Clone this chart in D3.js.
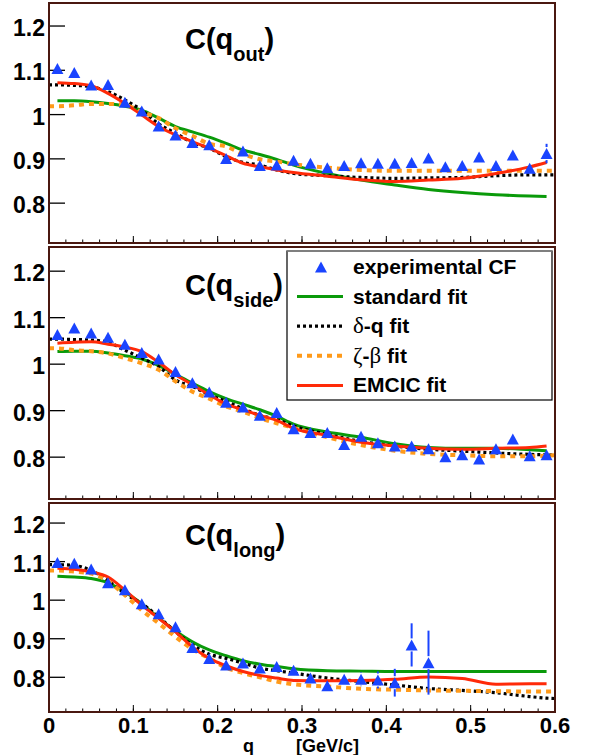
<!DOCTYPE html>
<html>
<head>
<meta charset="utf-8">
<script src="https://cdn.jsdelivr.net/npm/d3@7"></script>
<style>
  body { margin: 0; background: #fff; }
  svg { display: block; }
</style>
</head>
<body>
<script>
// ---- data ---------------------------------------------------------------
// bin centres of the measured correlation functions [GeV/c]
const qBins = [0.01, 0.03, 0.05, 0.07, 0.09, 0.11, 0.13, 0.15, 0.17, 0.19,
               0.21, 0.23, 0.25, 0.27, 0.29, 0.31, 0.33, 0.35, 0.37, 0.39,
               0.41, 0.43, 0.45, 0.47, 0.49, 0.51, 0.53, 0.55, 0.57, 0.59];

// experimental CF, out / side / long projections
const cfOut  = [1.104, 1.095, 1.067, 1.068, 1.028, 1.008, 0.974, 0.954, 0.937, 0.932,
                0.901, 0.918, 0.885, 0.886, 0.897, 0.890, 0.880, 0.885, 0.891, 0.890,
                0.890, 0.892, 0.902, 0.882, 0.885, 0.904, 0.885, 0.909, 0.879, 0.912];
const errOut = [0.010, 0.010, 0.010, 0.010, 0.010, 0.010, 0.010, 0.010, 0.010, 0.010,
                0.010, 0.010, 0.010, 0.010, 0.010, 0.010, 0.010, 0.010, 0.011, 0.011,
                0.011, 0.011, 0.012, 0.012, 0.012, 0.012, 0.012, 0.013, 0.013, 0.022];

const cfSide  = [1.064, 1.078, 1.067, 1.058, 1.043, 1.025, 1.011, 0.984, 0.960, 0.940,
                 0.918, 0.908, 0.890, 0.896, 0.861, 0.853, 0.853, 0.827, 0.845, 0.831,
                 0.824, 0.824, 0.818, 0.801, 0.805, 0.796, 0.818, 0.839, 0.803, 0.805];
const errSide = [0.010, 0.010, 0.010, 0.010, 0.010, 0.010, 0.010, 0.010, 0.010, 0.010,
                 0.010, 0.010, 0.010, 0.010, 0.010, 0.010, 0.010, 0.010, 0.010, 0.010,
                 0.010, 0.010, 0.010, 0.010, 0.010, 0.010, 0.010, 0.010, 0.010, 0.010];

const qBinsLong = qBins.slice(0, 23);
const cfLong  = [1.098, 1.096, 1.081, 1.045, 1.027, 0.991, 0.965, 0.931, 0.877, 0.849,
                 0.832, 0.837, 0.824, 0.828, 0.818, 0.798, 0.778, 0.795, 0.795, 0.793,
                 0.786, 0.884, 0.838];
const errLong = [0.012, 0.012, 0.012, 0.012, 0.012, 0.012, 0.012, 0.014, 0.012, 0.012,
                 0.012, 0.012, 0.012, 0.012, 0.012, 0.012, 0.012, 0.013, 0.018, 0.022,
                 0.036, 0.056, 0.083];

// q grid on which the fit curves are tabulated (null = curve not drawn there)
const fitGrid = [0, 0.01, 0.03, 0.05, 0.07, 0.09, 0.11, 0.13, 0.15, 0.17, 0.19, 0.21,
                 0.23, 0.25, 0.27, 0.29, 0.33, 0.37, 0.41, 0.45, 0.49, 0.53, 0.57, 0.59, 0.6];

const standardOut  = [null, 1.031, 1.031, 1.029, 1.025, 1.019, 1.010, 0.992, 0.973, 0.961, 0.949, 0.935,
                      0.920, 0.910, 0.899, 0.886, 0.867, 0.852, 0.841, 0.831, 0.824, 0.819, 0.816, 0.815, null];
const deltaQOut    = [1.067, 1.067, 1.066, 1.063, 1.052, 1.033, 1.010, 0.979, 0.958, 0.937, 0.924, 0.905,
                      0.892, 0.886, 0.875, 0.867, 0.862, 0.858, 0.856, 0.857, 0.858, 0.862, 0.864, 0.864, 0.864];
const zetaBetaOut  = [1.019, 1.019, 1.021, 1.024, 1.024, 1.022, 1.006, 0.992, 0.969, 0.952, 0.934, 0.928,
                      0.911, 0.899, 0.894, 0.888, 0.880, 0.875, 0.873, 0.873, 0.873, 0.873, 0.873, 0.873, 0.873];
const emcicOut     = [null, 1.072, 1.070, 1.065, 1.048, 1.025, 0.999, 0.973, 0.954, 0.939, 0.924, 0.907,
                      0.890, 0.882, 0.875, 0.869, 0.861, 0.853, 0.849, 0.852, 0.856, 0.867, 0.882, 0.892, null];

const standardSide = [null, 1.027, 1.028, 1.028, 1.024, 1.018, 1.011, 0.997, 0.978, 0.959, 0.941, 0.926,
                      0.914, 0.902, 0.888, 0.871, 0.854, 0.843, 0.829, 0.821, 0.819, 0.819, 0.816, 0.814, null];
const deltaQSide   = [1.054, 1.054, 1.053, 1.052, 1.047, 1.030, 1.013, 0.995, 0.966, 0.952, 0.934, 0.920,
                      0.904, 0.890, 0.881, 0.867, 0.849, 0.834, 0.824, 0.817, 0.813, 0.809, 0.806, 0.805, 0.804];
const zetaBetaSide = [1.034, 1.034, 1.030, 1.028, 1.023, 1.013, 1.002, 0.988, 0.963, 0.941, 0.926, 0.909,
                      0.898, 0.884, 0.873, 0.863, 0.843, 0.826, 0.814, 0.807, 0.804, 0.802, 0.802, 0.803, 0.804];
const emcicSide    = [null, 1.045, 1.047, 1.048, 1.043, 1.037, 1.027, 1.004, 0.977, 0.956, 0.934, 0.914,
                      0.902, 0.890, 0.879, 0.862, 0.847, 0.832, 0.824, 0.819, 0.817, 0.819, 0.821, 0.824, null];

const standardLong = [null, 1.062, 1.060, 1.056, 1.045, 1.021, 0.991, 0.954, 0.920, 0.892, 0.871, 0.856,
                      0.843, 0.834, 0.828, 0.822, 0.817, 0.816, 0.815, 0.815, 0.815, 0.815, 0.815, 0.815, null];
const deltaQLong   = [1.092, 1.092, 1.090, 1.077, 1.051, 1.017, 0.991, 0.957, 0.918, 0.884, 0.860, 0.849,
                      0.837, 0.824, 0.817, 0.811, 0.798, 0.789, 0.780, 0.771, 0.766, 0.760, 0.750, 0.746, 0.745];
const zetaBetaLong = [1.077, 1.077, 1.074, 1.069, 1.049, 1.013, 0.974, 0.940, 0.905, 0.873, 0.849, 0.825,
                      0.811, 0.800, 0.789, 0.782, 0.776, 0.770, 0.768, 0.766, 0.765, 0.764, 0.763, 0.763, 0.763];
const emcicLong    = [null, 1.083, 1.080, 1.073, 1.060, 1.026, 0.987, 0.953, 0.918, 0.879, 0.849, 0.830,
                      0.815, 0.805, 0.798, 0.792, 0.791, 0.792, 0.795, 0.801, 0.797, 0.782, 0.783, 0.783, null];

const yTickValues = [0.8, 0.9, 1.0, 1.1, 1.2];
const yTickLabels = ["0.8", "0.9", "1", "1.1", "1.2"];
const xTickValues = [0, 0.1, 0.2, 0.3, 0.4, 0.5, 0.6];
const xTickLabels = ["0", "0.1", "0.2", "0.3", "0.4", "0.5", "0.6"];
const panelNames  = ["out", "side", "long"];

// ---- style ----------------------------------------------------------------
const colors = { data: "#1a44ff", standard: "#0a9a0a", deltaQ: "#000000", zetaBeta: "#ff9a1a", emcic: "#ff2a08" };
const sansBold = "'Liberation Sans', Arial, Helvetica, sans-serif";
const serif = "'Liberation Serif', 'Times New Roman', serif";

// ---- layout ---------------------------------------------------------------
const W = 595, H = 755;
const plotLeft = 49, plotRight = 555;
const panels = [
  { top: 3,   bottom: 243, titleY: 49,  cf: cfOut,  err: errOut,  q: qBins,
    fits: [standardOut, deltaQOut, zetaBetaOut, emcicOut] },
  { top: 247, bottom: 499, titleY: 295, cf: cfSide, err: errSide, q: qBins,
    fits: [standardSide, deltaQSide, zetaBetaSide, emcicSide] },
  { top: 503, bottom: 712, titleY: 545, cf: cfLong, err: errLong, q: qBinsLong,
    fits: [standardLong, deltaQLong, zetaBetaLong, emcicLong] }
];
const fitStyles = [
  { color: colors.standard, width: 3,   dash: null },
  { color: colors.deltaQ,   width: 3.2, dash: "3,3" },
  { color: colors.zetaBeta, width: 4,   dash: "5,5" },
  { color: colors.emcic,    width: 3,   dash: null }
];

const svg = d3.select("body").append("svg")
  .attr("width", W).attr("height", H)
  .style("background", "#fff");

const x = d3.scaleLinear().domain([0, 0.6]).range([plotLeft, plotRight]);

// triangle marker centred (bounding box) on (cx, cy)
const triHalfW = 6, triHalfH = 5.5;
function trianglePath(cx, cy, hw = triHalfW, hh = triHalfH) {
  return `M${cx - hw},${cy + hh}L${cx + hw},${cy + hh}L${cx},${cy - hh}Z`;
}

panels.forEach((p, pi) => {
  const y = d3.scaleLinear().domain([0.71, 1.252]).range([p.bottom, p.top]);
  const g = svg.append("g");

  const clipId = "clip" + pi;
  svg.append("clipPath").attr("id", clipId)
    .append("rect").attr("x", plotLeft).attr("y", p.top)
    .attr("width", plotRight - plotLeft).attr("height", p.bottom - p.top);

  // x ticks (major 0.1, minor 0.02) on the bottom edge, drawn inward
  const minorTicks = d3.range(0, 31).map(i => i * 0.02);
  g.selectAll(".xminor").data(minorTicks).join("line")
    .attr("x1", d => x(d)).attr("x2", d => x(d))
    .attr("y1", p.bottom).attr("y2", p.bottom - 3.5)
    .attr("stroke", "#000").attr("stroke-width", 1);
  g.selectAll(".xmajor").data(xTickValues).join("line")
    .attr("x1", d => x(d)).attr("x2", d => x(d))
    .attr("y1", p.bottom).attr("y2", p.bottom - 7)
    .attr("stroke", "#000").attr("stroke-width", 1);

  // y ticks drawn inward from the left edge
  g.selectAll(".ytick").data(yTickValues).join("line")
    .attr("x1", plotLeft).attr("x2", plotLeft + 16)
    .attr("y1", d => y(d)).attr("y2", d => y(d))
    .attr("stroke", "#000").attr("stroke-width", 1.3);
  g.selectAll(".ylab").data(yTickValues).join("text")
    .attr("x", 45).attr("y", d => y(d) + 10)
    .attr("text-anchor", "end")
    .attr("font-family", sansBold).attr("font-weight", "bold").attr("font-size", 23)
    .text((d, i) => yTickLabels[i]);

  // fit curves
  const curves = g.append("g").attr("clip-path", `url(#${clipId})`);
  p.fits.forEach((vals, fi) => {
    const st = fitStyles[fi];
    const pts = fitGrid.map((q, i) => [q, vals[i]]);
    const line = d3.line()
      .defined(d => d[1] !== null)
      .x(d => x(d[0])).y(d => y(d[1]))
      .curve(d3.curveMonotoneX);
    curves.append("path")
      .attr("d", line(pts))
      .attr("fill", "none")
      .attr("stroke", st.color)
      .attr("stroke-width", st.width)
      .attr("stroke-dasharray", st.dash)
      .attr("stroke-linejoin", "round");
  });

  // experimental points: error bars outside the marker, then triangles
  const pts = p.q.map((q, i) => ({ q, v: p.cf[i], e: p.err[i] }));
  const eb = g.append("g").attr("stroke", colors.data).attr("stroke-width", 2);
  pts.forEach(d => {
    const cx = x(d.q), cy = y(d.v);
    const yHi = y(d.v + d.e), yLo = y(d.v - d.e);
    if (yHi < cy - triHalfH - 1) {
      eb.append("line").attr("x1", cx).attr("x2", cx).attr("y1", yHi).attr("y2", cy - triHalfH - 1);
    }
    if (yLo > cy + triHalfH + 1) {
      eb.append("line").attr("x1", cx).attr("x2", cx).attr("y1", cy + triHalfH + 1).attr("y2", yLo);
    }
  });
  g.selectAll(".pt").data(pts).join("path")
    .attr("d", d => trianglePath(x(d.q), y(d.v)))
    .attr("fill", colors.data);

  // frame
  g.append("rect")
    .attr("x", plotLeft).attr("y", p.top)
    .attr("width", plotRight - plotLeft).attr("height", p.bottom - p.top)
    .attr("fill", "none").attr("stroke", "#4a1810").attr("stroke-width", 2);

  // panel title C(q_xxx)
  const t = g.append("text")
    .attr("x", 185).attr("y", p.titleY)
    .attr("font-family", sansBold).attr("font-weight", "bold").attr("font-size", 29);
  t.append("tspan").text("C(q");
  t.append("tspan").attr("font-size", 20).attr("dy", 12).text(panelNames[pi]);
  t.append("tspan").attr("dy", -12).text(")");

  // x tick labels on the lowest panel only
  if (pi === panels.length - 1) {
    g.selectAll(".xlab").data(xTickValues).join("text")
      .attr("x", d => x(d)).attr("y", p.bottom + 21)
      .attr("text-anchor", "middle")
      .attr("font-family", sansBold).attr("font-weight", "bold").attr("font-size", 22)
      .text((d, i) => xTickLabels[i]);
  }
});

// axis title
svg.append("text").attr("x", 243).attr("y", 752)
  .attr("font-family", sansBold).attr("font-weight", "bold").attr("font-size", 18)
  .text("q");
svg.append("text").attr("x", 296).attr("y", 752)
  .attr("font-family", sansBold).attr("font-weight", "bold").attr("font-size", 18)
  .text("[GeV/c]");

// legend
const leg = svg.append("g");
const legBox = { x0: 287, x1: 552, y0: 251, y1: 400 };
leg.append("rect")
  .attr("x", legBox.x0).attr("y", legBox.y0)
  .attr("width", legBox.x1 - legBox.x0).attr("height", legBox.y1 - legBox.y0)
  .attr("fill", "#fff").attr("stroke", "#000").attr("stroke-width", 1.2);
leg.append("line")
  .attr("x1", legBox.x0).attr("x2", legBox.x1)
  .attr("y1", legBox.y0).attr("y2", legBox.y0)
  .attr("stroke", "#888").attr("stroke-width", 1.5);

const legRowY = i => legBox.y0 + 16 + i * 29.6;
const legTextX = 353;

leg.append("path").attr("d", trianglePath(321, legRowY(0))).attr("fill", colors.data);
fitStyles.forEach((st, i) => {
  leg.append("line")
    .attr("x1", 297).attr("x2", 343)
    .attr("y1", legRowY(i + 1)).attr("y2", legRowY(i + 1))
    .attr("stroke", st.color).attr("stroke-width", st.width)
    .attr("stroke-dasharray", st.dash);
});

const legendEntries = [
  [["experimental CF", false]],
  [["standard fit", false]],
  [["δ", true], ["-q fit", false]],
  [["ζ", true], ["-", false], ["β", true], [" fit", false]],
  [["EMCIC fit", false]]
];
legendEntries.forEach((parts, i) => {
  const tx = leg.append("text")
    .attr("x", legTextX).attr("y", legRowY(i) + 7)
    .attr("font-size", 21).attr("xml:space", "preserve");
  parts.forEach(([s, greek]) => {
    tx.append("tspan")
      .attr("font-family", greek ? serif : sansBold)
      .attr("font-weight", greek ? "normal" : "bold")
      .attr("font-size", greek ? 23 : 21)
      .text(s);
  });
});
</script>
</body>
</html>
